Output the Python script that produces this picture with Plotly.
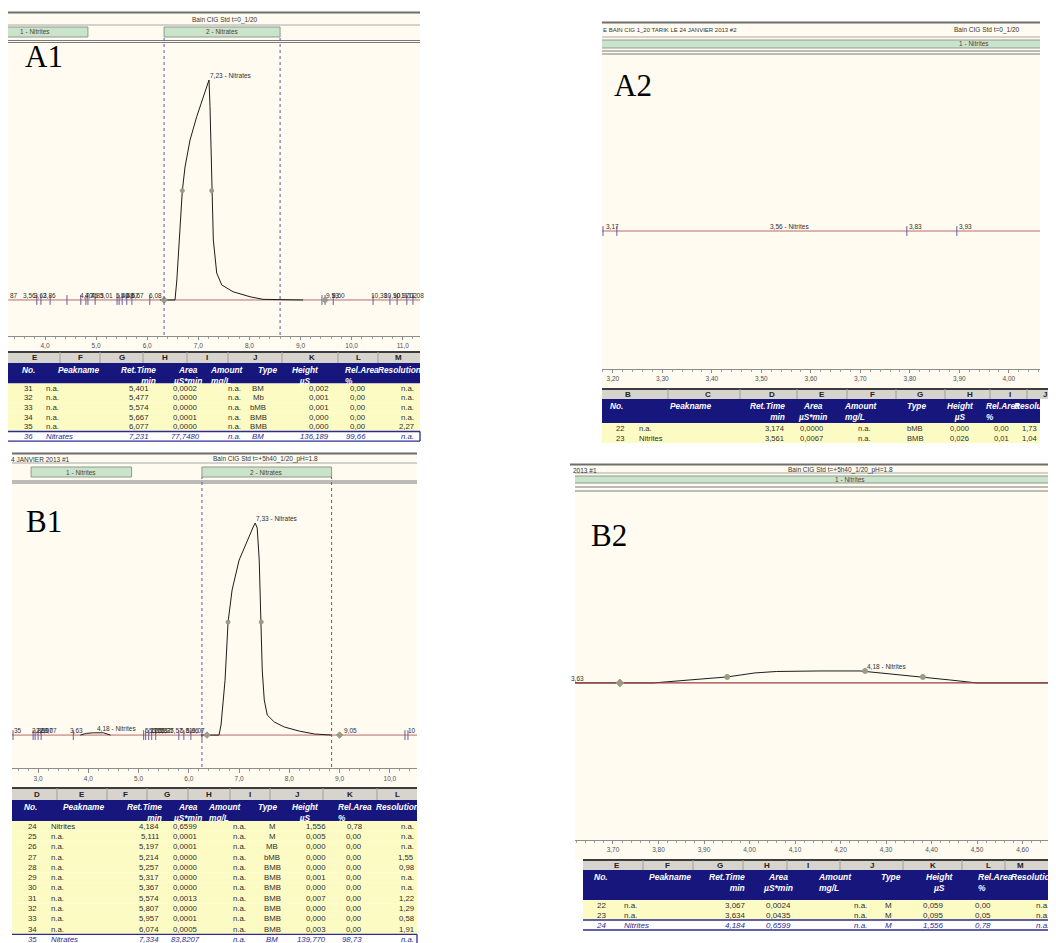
import plotly.graph_objects as go

W, H = 1056, 943          # reference picture size
OFF = 8                   # page margin of the html body
FW, FH = W - OFF, H - OFF  # figure size
SANS = "Liberation Sans, Arial, sans-serif"
SERIF = "Liberation Serif, Times New Roman, serif"

# ======================= DATA =======================
# ---- chromatogram A1 (time min, signal µS) ----
A1_time = [6.25, 6.544, 6.58, 6.642, 6.687, 6.74, 6.838, 6.969, 7.098, 7.209, 7.229,
           7.262, 7.294, 7.36, 7.458, 7.679, 8.012, 8.266, 9.05]
A1_signal = [0.0, 0.0, 12.4, 45.2, 67.7, 82.3, 99.0, 113.5, 125.8, 136.2, 119.7,
             67.7, 37.1, 16.7, 9.3, 5.1, 2.0, 0.4, 0.0]
A1_baseline_time = [3.28, 11.34]
A1_half_time = [6.687, 7.262]
A1_half_signal = [67.7, 67.7]
A1_delim_time = [3.84, 3.92, 4.10, 4.43, 4.70, 4.80, 4.84, 4.98, 5.41, 5.45, 5.51,
                 5.60, 5.70, 6.05, 9.42, 9.48, 9.64, 10.42, 10.75, 10.89, 11.08, 11.20]
A1_end_time = [6.33, 9.48]
A1_label_time = [3.295, 3.55, 3.77, 3.94, 4.665, 4.76, 4.88, 5.06, 5.37, 5.47, 5.57,
                 5.66, 6.02, 9.48, 9.60, 10.36, 10.61, 10.79, 10.95, 11.08]
A1_label_text = ["87", "3,56", "3,62", "3,86", "4,70", "4,75", "4,83", "5,01", "5,40",
                 "5,48", "5,57", "5,67", "6,08", "9,53", "9,60", "10,38", "10,90",
                 "10,97", "11,02", "11,08"]
A1_peak_text, A1_peak_time, A1_peak_value = "7,23 - Nitrates", 7.20, 136.2
A1_tab_text = ["1 - Nitrites", "2 - Nitrates"]
A1_tab_start = [2.75, 6.33]
A1_tab_end = [4.84, 8.60]

# ---- chromatogram A2 ----
A2_baseline_time = [3.178, 4.063]
A2_delim_time = [3.180, 3.208, 3.794, 3.895]
A2_label_time = [3.184, 3.515, 3.796, 3.897]
A2_label_text = ["3,17", "3,56 - Nitrites", "3,83", "3,93"]
A2_tab_text = ["1 - Nitrites"]
A2_tab_start = [3.00]
A2_tab_end = [4.86]

# ---- chromatogram B1 ----
B1_nitrite_time = [3.84, 3.96, 4.10, 4.30, 4.44]
B1_nitrite_signal = [0.0, 1.1, 1.5, 1.5, 0.0]
B1_time = [6.24, 6.60, 6.64, 6.68, 6.72, 6.78, 6.86, 7.00, 7.16, 7.28, 7.32, 7.36,
           7.40, 7.42, 7.44, 7.46, 7.50, 7.56, 7.70, 7.90, 8.20, 8.50, 8.84]
B1_signal = [0.0, 0.0, 6.6, 19.8, 36.2, 74.5, 95.6, 115.3, 128.5, 137.1, 139.7, 136.4,
             115.3, 89.0, 74.5, 42.8, 23.1, 13.2, 8.6, 5.3, 2.6, 0.7, 0.0]
B1_baseline_time = [2.48, 10.54]
B1_half_time = [6.78, 7.44]
B1_half_signal = [74.5, 74.5]
B1_delim_time = [2.50, 2.90, 2.94, 3.00, 3.06, 3.70, 5.10, 5.14, 5.20, 5.26, 5.34,
                 5.80, 5.90, 6.04, 6.26, 10.30, 10.36]
B1_end_time = [6.36, 9.00]
B1_label_time = [2.49, 2.86, 2.94, 3.02, 3.10, 3.62, 5.10, 5.18, 5.24, 5.30, 5.36,
                 5.42, 5.60, 5.80, 5.92, 6.04, 9.06, 10.34]
B1_label_text = ["35", "2,86", "2,90", "2,97", "3,07", "3,63", "5,11", "5,20", "5,21",
                 "5,26", "5,32", "5,37", "5,57", "5,81", "5,96", "6,07", "9,05", "10"]
B1_nit_label_text, B1_nit_label_time, B1_nit_label_value = "4,18 - Nitrites", 4.16, 1.5
B1_peak_text, B1_peak_time, B1_peak_value = "7,33 - Nitrates", 7.32, 139.8
B1_tab_text = ["1 - Nitrites", "2 - Nitrates"]
B1_tab_start = [2.86, 6.26]
B1_tab_end = [4.86, 8.84]

# ---- chromatogram B2 ----
B2_time = [3.6165, 3.788, 3.869, 3.951, 4.012, 4.06, 4.155, 4.243, 4.287, 4.381,
           4.44, 4.50, 4.6736]
B2_signal = [0.0, 0.0, 0.39, 0.78, 1.30, 1.49, 1.556, 1.556, 1.30, 0.78, 0.39, 0.0, 0.0]
B2_baseline_time = [3.6165, 4.6736]
B2_point_time = [3.951, 4.254, 4.381]
B2_point_signal = [0.78, 1.556, 0.78]
B2_end_time = [3.715]
B2_label_left_text, B2_label_left_time = "3,63", 3.638
B2_peak_text, B2_peak_time, B2_peak_value = "4,18 - Nitrites", 4.256, 1.556
B2_tab_text = ["1 - Nitrites"]
B2_tab_start = [3.55]
B2_tab_end = [4.89]

# ---- peak tables ----
A1_no = [31, 32, 33, 34, 35, 36]
A1_name = ["n.a.", "n.a.", "n.a.", "n.a.", "n.a.", "Nitrates"]
A1_rt = [5.401, 5.477, 5.574, 5.667, 6.077, 7.231]
A1_area = [0.0002, 0.0000, 0.0000, 0.0001, 0.0000, 77.7480]
A1_amount = [None, None, None, None, None, None]
A1_type = ["BM", "Mb", "bMB", "BMB", "BMB", "BM"]
A1_height = [0.002, 0.001, 0.001, 0.000, 0.000, 136.189]
A1_relarea = [0.00, 0.00, 0.00, 0.00, 0.00, 99.66]
A1_resol = [None, None, None, None, 2.27, None]

A2_no = [22, 23]
A2_name = ["n.a.", "Nitrites"]
A2_rt = [3.174, 3.561]
A2_area = [0.0000, 0.0067]
A2_amount = [None, None]
A2_type = ["bMB", "BMB"]
A2_height = [0.000, 0.026]
A2_relarea = [0.00, 0.01]
A2_resol = [1.73, 1.04]

B1_no = [24, 25, 26, 27, 28, 29, 30, 31, 32, 33, 34, 35]
B1_name = ["Nitrites", "n.a.", "n.a.", "n.a.", "n.a.", "n.a.", "n.a.", "n.a.", "n.a.",
           "n.a.", "n.a.", "Nitrates"]
B1_rt = [4.184, 5.111, 5.197, 5.214, 5.257, 5.317, 5.367, 5.574, 5.807, 5.957, 6.074, 7.334]
B1_area = [0.6599, 0.0001, 0.0001, 0.0000, 0.0000, 0.0000, 0.0000, 0.0013, 0.0000,
           0.0001, 0.0005, 83.8207]
B1_amount = [None, None, None, None, None, None, None, None, None, None, None, None]
B1_type = ["M", "M", "MB", "bMB", "BMB", "BMB", "BMB", "BMB", "BMB", "BMB", "BMB", "BM"]
B1_height = [1.556, 0.005, 0.000, 0.000, 0.000, 0.001, 0.000, 0.007, 0.000, 0.000,
             0.003, 139.770]
B1_relarea = [0.78, 0.00, 0.00, 0.00, 0.00, 0.00, 0.00, 0.00, 0.00, 0.00, 0.00, 98.73]
B1_resol = [None, None, None, 1.55, 0.98, None, None, 1.22, 1.29, 0.58, 1.91, None]

B2_no = [22, 23, 24]
B2_name = ["n.a.", "n.a.", "Nitrites"]
B2_rt = [3.067, 3.634, 4.184]
B2_area = [0.0024, 0.0435, 0.6599]
B2_amount = [None, None, None]
B2_type = ["M", "M", "M"]
B2_height = [0.059, 0.095, 1.556]
B2_relarea = [0.00, 0.05, 0.78]
B2_resol = [None, None, None]

A1_letters = ["E", "F", "G", "H", "I", "J", "K", "L", "M"]
A2_letters = ["B", "C", "D", "E", "F", "G", "H", "I", "J"]
B1_letters = ["D", "E", "F", "G", "H", "I", "J", "K", "L"]
B2_letters = ["E", "F", "G", "H", "I", "J", "K", "L", "M"]

TABLE_HEADERS = ["No.", "Peakname", "Ret.Time<br>min", "Area<br>µS*min", "Amount<br>mg/L",
                 "Type", "Height<br>µS", "Rel.Area<br>%", "Resolution"]

# ======================= STYLE / HELPERS =======================
CREAM = "#FFFBF0"
GREEN = "#C9E4CB"
NAVY = "#16167C"
YELLOW = "#FDFBC4"
HL = "#2B2B92"
TXT = "#333333"

shapes, annots = [], []


def fx(x):
    return (x - OFF) / FW


def fy(y):
    return 1 - (y - OFF) / FH


def rect(x0, y0, x1, y1, fill, line=None, lw=1):
    shapes.append(dict(type="rect", xref="paper", yref="paper", layer="below",
                       x0=fx(x0), x1=fx(x1), y0=fy(y1), y1=fy(y0), fillcolor=fill,
                       line=dict(color=line or "rgba(0,0,0,0)", width=lw if line else 0)))


def hline(x0, x1, y, color, w=1):
    shapes.append(dict(type="line", xref="paper", yref="paper", layer="below",
                       x0=fx(x0), x1=fx(x1), y0=fy(y), y1=fy(y), line=dict(color=color, width=w)))


def vline(x, y0, y1, color, w=1):
    shapes.append(dict(type="line", xref="paper", yref="paper", layer="below",
                       x0=fx(x), x1=fx(x), y0=fy(y0), y1=fy(y1), line=dict(color=color, width=w)))


def text(x, y, s, size=7, color=TXT, xanchor="center", yanchor="middle", family=SANS, align=None):
    annots.append(dict(xref="paper", yref="paper", x=fx(x), y=fy(y), text=s, showarrow=False,
                       xanchor=xanchor, yanchor=yanchor, align=align or xanchor,
                       font=dict(size=size, color=color, family=family), borderpad=0))


def fmt(v, d):
    return "n.a." if v is None else f"{v:.{d}f}".replace(".", ",")


def tabs(xref, names, starts, ends, y0, y1):
    for nm, a, b in zip(names, starts, ends):
        shapes.append(dict(type="rect", xref=xref, yref="paper", layer="below", x0=a, x1=b,
                           y0=fy(y1), y1=fy(y0), fillcolor=GREEN,
                           line=dict(color="#8F9A8F", width=1)))
        annots.append(dict(xref=xref, yref="paper", x=(a + b) / 2, y=fy((y0 + y1) / 2), text=nm,
                           showarrow=False, xanchor="center", yanchor="middle",
                           font=dict(size=6.5, color="#5A3A32", family=SANS)))


def windows(xref, starts, ends, y0, y1):
    for a, b in zip(starts, ends):
        for v in (a, b):
            shapes.append(dict(type="line", xref=xref, yref="paper", layer="above", x0=v, x1=v,
                               y0=fy(y1), y1=fy(y0), line=dict(color="#5A5AA8", width=1, dash="dot")))


def peak_labels(xref, yref, times, texts, yshift=0, size=6.5):
    for t, s in zip(times, texts):
        annots.append(dict(xref=xref, yref=yref, x=t, y=0, text=s, showarrow=False,
                           xanchor="left", yanchor="bottom", yshift=yshift,
                           font=dict(size=size, color="#303030", family=SANS), borderpad=0))


def peak_label(xref, yref, t, v, s, size=6.5, xanchor="left"):
    annots.append(dict(xref=xref, yref=yref, x=t, y=v, text=s, showarrow=False,
                       xanchor=xanchor, yanchor="bottom", yshift=0,
                       font=dict(size=size, color="#303030", family=SANS), borderpad=0))


COL_ALIGN = ["center", "left", "right", "center", "right", "center", "right", "right", "right"]
HEAD_ALIGN = ["center", "center", "right", "center", "left", "center", "center", "left", "center"]


def table(cols, letters, letter_x, seps, head_x, col_x, x0, x1, yl, yb, yr, rh,
          fs=7.8, hfs=8.3, highlight=True, lx1=None):
    lx1 = lx1 or x1
    rect(x0, yl, lx1, yb, "#D7D4CE")
    hline(x0, lx1, yl, "#3C3C3C", 2)
    for s in seps:
        vline(s, yl, yb, "#9E9E9E")
    for L, lx in zip(letters, letter_x):
        text(lx, (yl + yb) / 2 + 0.5, f"<b>{L}</b>", 8, "#222222")
    rect(x0, yb, x1, yr, NAVY)
    for h, hx, al in zip(TABLE_HEADERS, head_x, HEAD_ALIGN):
        hh = "<br>".join(f"<b><i>{p}</i></b>" for p in h.split("<br>"))
        text(hx, yb + 1, hh, hfs, "white", "center", "top", align=al)
    n = len(cols[0])
    for i in range(n):
        top = yr + i * rh
        last = highlight and i == n - 1
        rect(x0, top, x1, top + rh, "white" if last else YELLOW)
        for col, cx, al in zip(cols, col_x, COL_ALIGN):
            s = str(col[i])
            if last:
                s = f"<i>{s}</i>"
            text(cx, top + rh / 2, s, fs, HL if last else "#2E2E2E", al)
        if last:
            hline(x0, x1, top, HL, 1.3)
            hline(x0, x1, top + rh, HL, 1.3)
            vline(x1, top, top + rh, HL, 1.3)


def table_cols(no, name, rt, area, amount, typ, height, rel, res):
    return [[str(v) for v in no], name, [fmt(v, 3) for v in rt], [fmt(v, 4) for v in area],
            [fmt(v, 2) for v in amount], typ, [fmt(v, 3) for v in height],
            [fmt(v, 2) for v in rel], [fmt(v, 2) for v in res]]


fig = go.Figure()


def line_trace(xa, ya, x, y, color, width=1):
    fig.add_trace(go.Scatter(x=x, y=y, xaxis=xa, yaxis=ya, mode="lines",
                             line=dict(color=color, width=width), hoverinfo="skip", showlegend=False))


def mark_trace(xa, ya, x, y, symbol, size, color, lcolor=None, lw=1):
    fig.add_trace(go.Scatter(x=x, y=y, xaxis=xa, yaxis=ya, mode="markers",
                             marker=dict(symbol=symbol, size=size, color=color,
                                         line=dict(color=lcolor or color, width=lw)),
                             hoverinfo="skip", showlegend=False))


BASE = "#B86A6A"
SIG = "#1C1C1C"
DELIM = "#6A5A9E"
PT = "#9A9C84"

# ======================= PANEL A1 =======================
rect(8, 12, 420, 350, CREAM)
hline(8, 420, 12.5, "#6E6E6E", 2)
text(225, 19.5, "Bain CIG Std t=0_1/20", 6.5)
hline(8, 420, 25, "#A8A8A8")
tabs("x", A1_tab_text, A1_tab_start, A1_tab_end, 27, 37)
hline(8, 420, 40.5, "#7A7A7A")
hline(8, 420, 42.5, "#7A7A7A")
windows("x", A1_tab_start[1:], A1_tab_end[1:], 37, 335)
line_trace("x", "y", A1_baseline_time, [0, 0], BASE)
line_trace("x", "y", A1_time, A1_signal, SIG)
mark_trace("x", "y", A1_half_time, A1_half_signal, "circle", 4, PT)
mark_trace("x", "y", A1_delim_time, [0] * len(A1_delim_time), "line-ns", 7, DELIM, DELIM)
mark_trace("x", "y", A1_end_time, [0, 0], "diamond", 5, PT)
peak_labels("x", "y", A1_label_time, A1_label_text)
peak_label("x", "y", A1_peak_time, A1_peak_value, A1_peak_text)
text(44, 57, "A1", 31, "black", family=SERIF)
table(table_cols(A1_no, A1_name, A1_rt, A1_area, A1_amount, A1_type, A1_height, A1_relarea, A1_resol),
      A1_letters, [35, 80, 122, 165, 207, 255, 312, 358, 398],
      [60, 100, 143, 187, 228, 282, 338, 378],
      [28, 78, 138, 187, 227, 267, 305, 362, 399],
      [28, 45, 150, 185, 242, 258, 330, 367, 415],
      8, 420, 352, 363, 383.5, 9.6)

# ======================= PANEL A2 =======================
rect(602, 22, 1040, 388, CREAM)
hline(602, 1040, 22.5, "#6E6E6E", 2)
text(602, 30, "E BAIN CIG 1_20 TARIK LE 24 JANVIER 2013 #2", 6, xanchor="left")
text(953, 30, "Bain CIG Std t=0_1/20", 6.5, xanchor="left")
hline(602, 1040, 37, "#A8A8A8")
tabs("x2", A2_tab_text, A2_tab_start, A2_tab_end, 40, 48)
hline(602, 1040, 51, "#7A7A7A")
hline(602, 1040, 54, "#7A7A7A")
line_trace("x2", "y2", A2_baseline_time, [0, 0], BASE)
mark_trace("x2", "y2", A2_delim_time, [0] * len(A2_delim_time), "line-ns", 7, DELIM, DELIM)
peak_labels("x2", "y2", A2_label_time, A2_label_text)
text(633, 86, "A2", 31, "black", family=SERIF)
table(table_cols(A2_no, A2_name, A2_rt, A2_area, A2_amount, A2_type, A2_height, A2_relarea, A2_resol),
      A2_letters, [628, 708, 772, 822, 872, 920, 970, 1010, 1045],
      [668, 740, 797, 847, 896, 945, 990, 1027],
      [616, 690, 767, 812, 861, 916, 960, 1003, 1035],
      [620, 638, 785, 811, 872, 915, 970, 1010, 1038],
      602, 1040, 389, 399, 423, 10, fs=7.6, highlight=False, lx1=1056)

# ======================= PANEL B1 =======================
rect(12, 453, 417, 788, CREAM)
hline(12, 417, 453.5, "#6E6E6E", 2)
text(10, 459, "4 JANVIER 2013 #1", 6.5, xanchor="left")
text(265, 459, "Bain CIG Std t=+5h40_1/20_pH=1.8", 6.5)
hline(12, 417, 463, "#A8A8A8")
tabs("x3", B1_tab_text, B1_tab_start, B1_tab_end, 467, 477)
hline(12, 417, 481, "#7A7A7A")
hline(12, 417, 483, "#7A7A7A")
windows("x3", B1_tab_start[1:], B1_tab_end[1:], 477, 767)
line_trace("x3", "y3", B1_baseline_time, [0, 0], BASE)
line_trace("x3", "y3", B1_nitrite_time, B1_nitrite_signal, SIG)
line_trace("x3", "y3", B1_time, B1_signal, SIG)
mark_trace("x3", "y3", B1_half_time, B1_half_signal, "circle", 4, PT)
mark_trace("x3", "y3", B1_delim_time, [0] * len(B1_delim_time), "line-ns", 7, DELIM, DELIM)
mark_trace("x3", "y3", B1_end_time, [0, 0], "diamond", 5, PT)
peak_labels("x3", "y3", B1_label_time, B1_label_text)
peak_label("x3", "y3", B1_nit_label_time, B1_nit_label_value, B1_nit_label_text)
peak_label("x3", "y3", B1_peak_time, B1_peak_value, B1_peak_text)
text(44, 521, "B1", 31, "black", family=SERIF)
table(table_cols(B1_no, B1_name, B1_rt, B1_area, B1_amount, B1_type, B1_height, B1_relarea, B1_resol),
      B1_letters, [37, 82, 125, 167, 209, 250, 297, 350, 397],
      [57, 107, 147, 188, 230, 270, 323, 377],
      [30, 83, 144, 187, 225, 267, 305, 355, 397],
      [32, 50, 160, 185, 247, 272, 327, 363, 415],
      12, 417, 788, 800, 821, 10.3)

# ======================= PANEL B2 =======================
rect(575, 464, 1056, 860, CREAM)
hline(570, 1056, 464.5, "#6E6E6E", 2)
text(572, 470, "2013 #1", 6.5, xanchor="left")
text(840, 470, "Bain CIG Std t=+5h40_1/20_pH=1.8", 6.5)
hline(575, 1056, 473, "#A8A8A8")
tabs("x4", B2_tab_text, B2_tab_start, B2_tab_end, 476, 483)
hline(575, 1056, 487, "#7A7A7A")
hline(575, 1056, 491, "#7A7A7A")
line_trace("x4", "y4", B2_time, B2_signal, SIG)
line_trace("x4", "y4", B2_baseline_time, [0, 0], "#9A4040", 1.2)
mark_trace("x4", "y4", B2_point_time, B2_point_signal, "circle", 5, PT)
mark_trace("x4", "y4", B2_end_time, [0], "diamond", 6, PT)
peak_label("x4", "y4", B2_label_left_time, 0, B2_label_left_text, xanchor="right")
peak_label("x4", "y4", B2_peak_time, B2_peak_value, B2_peak_text)
text(609, 535, "B2", 31, "black", family=SERIF)
table(table_cols(B2_no, B2_name, B2_rt, B2_area, B2_amount, B2_type, B2_height, B2_relarea, B2_resol),
      B2_letters, [617, 667, 720, 767, 808, 872, 933, 988, 1020],
      [643, 693, 743, 787, 840, 903, 962, 1005],
      [601, 670, 727, 778, 835, 891, 940, 995, 1033],
      [601, 623, 747, 778, 868, 888, 945, 992, 1050],
      583, 1056, 860, 870, 900, 10, fs=8, hfs=8.5)


# ======================= AXES =======================
def xaxis(x0, x1, rng, dtick, tfmt, minor, ticklen=3):
    return dict(domain=[fx(x0), fx(x1)], range=rng, dtick=dtick, tick0=0, tickformat=tfmt,
                showgrid=False, zeroline=False, showline=True, linecolor="#8C8C8C", linewidth=1,
                ticks="outside", ticklen=ticklen, tickcolor="#8C8C8C",
                tickfont=dict(size=6.5, color="#505050", family=SANS),
                minor=dict(dtick=minor, ticklen=2, tickcolor="#A0A0A0", ticks="outside"),
                fixedrange=True)


def yaxis(ytop, ybot, rng, anchor):
    return dict(domain=[fy(ybot), fy(ytop)], range=rng, visible=False, fixedrange=True, anchor=anchor)


fig.update_layout(
    width=FW, height=FH, margin=dict(l=0, r=0, t=0, b=0), autosize=False,
    paper_bgcolor="white", plot_bgcolor="rgba(0,0,0,0)", showlegend=False,
    separators=", ",
    xaxis=dict(xaxis(8, 420, [3.276, 11.338], 1, ".1f", 0.2), anchor="y"),
    yaxis=yaxis(43, 336, [-22.3, 159.1], "x"),
    xaxis2=dict(xaxis(602, 1040, [3.178, 4.063], 0.1, ".2f", 0.02), anchor="y2"),
    yaxis2=yaxis(55, 369, [-6.9, 8.8], "x2"),
    xaxis3=dict(xaxis(12, 417, [2.48, 10.54], 1, ".1f", 0.2, ticklen=4), anchor="y3"),
    yaxis3=yaxis(483, 768, [-21.7, 166.1], "x3"),
    xaxis4=dict(xaxis(575, 1056, [3.6165, 4.6736], 0.1, ".2f", 0.02), anchor="y4"),
    yaxis4=yaxis(492, 840, [-20.4, 24.8], "x4"),
    shapes=shapes, annotations=annots,
)

fig.write_html("out.html")
